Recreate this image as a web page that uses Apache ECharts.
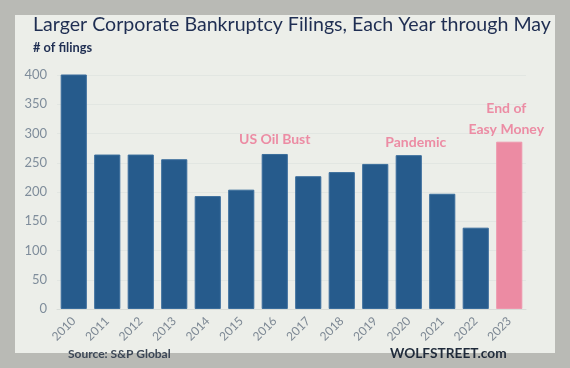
<!DOCTYPE html>
<html><head><meta charset="utf-8">
<script src="https://cdn.jsdelivr.net/npm/echarts@6/dist/echarts.min.js"></script>
<style>html,body{margin:0;padding:0;background:#b9bab5;}#c{width:570px;height:368px;}</style>
</head><body><div id="c"></div>
<script>
const years = ['2010','2011','2012','2013','2014','2015','2016','2017','2018','2019','2020','2021','2022','2023'];
const filings = [402, 264, 264, 256, 193, 204, 265, 227, 234, 248, 263, 197, 139, 286];
const notes = {'2016':'US Oil Bust','2020':'Pandemic','2023':'End of\nEasy Money'};
const highlightYear = '2023';
const yTicks = {min:0, max:400, interval:50};

const FONT = 'Lato, "Open Sans", sans-serif';
const BLUE = '#265b8c', PINK = '#ec8ba3';

const data = years.map((y, i) => {
  const item = {value: filings[i]};
  if (y === highlightYear) item.itemStyle = {color: PINK, borderColor: '#ee97ad'};
  if (notes[y]) {
    item.label = {show: true, position: 'top', formatter: notes[y], color: '#ec8ca4',
      fontFamily: FONT, fontWeight: 'bold', fontSize: 14, lineHeight: 21,
      distance: y === '2016' ? 4 : 2,
      offset: y === '2020' ? [7, 0] : (y === '2023' ? [-3, 0] : [0, 0])};
  }
  return item;
});

const chart = echarts.init(document.getElementById('c'), null, {renderer: 'canvas'});
chart.setOption({
  backgroundColor: '#b9bab5',
  animation: false,
  graphic: [
    {type: 'rect', z: -10, shape: {x: 15, y: 15, width: 540, height: 338}, style: {fill: '#eceee9'}},
    {type: 'text', left: 33, top: 15, style: {text: 'Larger Corporate Bankruptcy Filings, Each Year through May', fontFamily: FONT, fontSize: 19.6, fill: '#1f2e52'}},
    {type: 'text', left: 33, top: 41, style: {text: '# of filings', fontFamily: FONT, fontSize: 12.8, fontWeight: 'bold', fill: '#1f2e52'}},
    {type: 'text', left: 68, top: 348, style: {text: 'Source: S&P Global', fontFamily: FONT, fontSize: 12, fontWeight: 'bold', fill: '#3c4756'}},
    {type: 'text', left: 390, top: 347, style: {text: 'WOLFSTREET.com', fontFamily: FONT, fontSize: 13.7, fontWeight: 'bold', fill: '#1f2a3a'}}
  ],
  grid: {left: 57, right: 44, top: 75, bottom: 59},
  xAxis: {
    type: 'category', data: years,
    axisLine: {show: true, lineStyle: {color: '#d8dcd8'}},
    axisTick: {show: false},
    axisLabel: {rotate: 45, color: '#7d8894', fontFamily: FONT, fontSize: 12, margin: 10}
  },
  yAxis: {
    type: 'value', min: yTicks.min, max: yTicks.max, interval: yTicks.interval,
    axisLine: {show: false}, axisTick: {show: false},
    splitLine: {lineStyle: {color: '#e2e6e2'}},
    axisLabel: {color: '#7f8d9b', fontFamily: FONT, fontSize: 13, margin: 10}
  },
  series: [{
    type: 'bar', data: data, barCategoryGap: '22%',
    itemStyle: {color: BLUE, borderColor: '#3a6d9c', borderWidth: 1}
  }]
});
</script></body></html>
